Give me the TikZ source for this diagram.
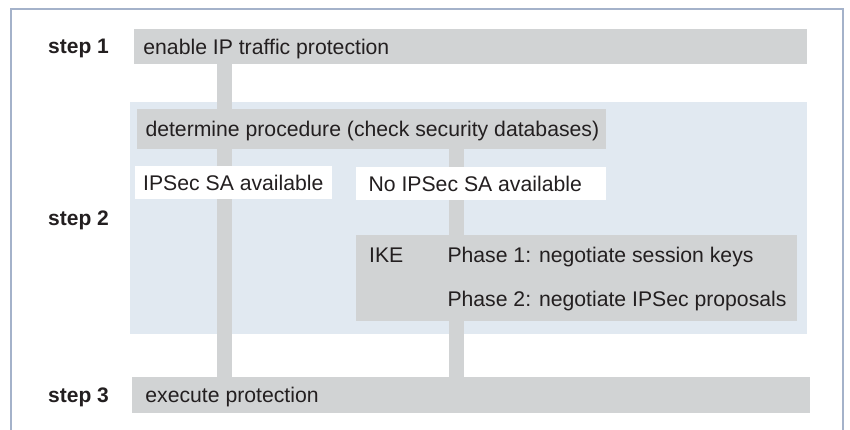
\documentclass[tikz,border=0pt]{standalone}
\usepackage{fontspec}
\setmainfont{Liberation Sans}
\pgfdeclarelayer{bg}
\pgfdeclarelayer{flow}
\pgfsetlayers{bg,flow,main}
\definecolor{bargray}{HTML}{D1D3D4}
\definecolor{stageblue}{HTML}{E1E9F1}
\definecolor{inkdark}{HTML}{231F20}
\definecolor{framecol}{HTML}{A4B2CA}
% fixed-width left-aligned line of text inside a box
\newcommand\boxline[2]{\makebox[#1][l]{#2}}
\tikzset{
  txt/.style={font=\fontsize{21.2}{44}\selectfont, text=inkdark,
              text height=15pt, text depth=0pt},
  bar/.style={txt, fill=bargray, anchor=north west, inner ysep=0pt,
              minimum height=#1},
  tag/.style={bar=#1, fill=white},
  steplabel/.style={txt, font=\fontsize{21}{44}\selectfont\bfseries,
              anchor=west, inner sep=0pt},
  ikeline/.style={txt, anchor=base west, inner sep=0pt},
  stem/.style={draw=bargray, line width=15pt},
  frame/.style={draw=framecol, line width=2pt},
}
\begin{document}
\begin{tikzpicture}[x=1pt, y=-1pt]
  \useasboundingbox (0,0) rectangle (850,430);
  \draw[frame] (11,430) -- (11,9) -- (843,9) -- (843,430);

  % stage 2 area, behind everything
  \begin{pgfonlayer}{bg}
    \node[fill=stageblue, anchor=north west, inner sep=0pt,
          minimum width=677pt, minimum height=232pt] (stage) at (130,102) {};
  \end{pgfonlayer}

  % steps
  \node[bar=35pt, inner xsep=9.2pt] (s1) at (134,29)
       {\boxline{654.6pt}{enable IP traffic protection}};
  \node[bar=40pt, inner xsep=8.3pt] (det) at (137,109)
       {\boxline{452.4pt}{determine procedure (check security databases)}};
  \node[tag=33pt, inner xsep=8pt] (sa) at (135,166)
       {\boxline{181pt}{IPSec SA available}};
  \node[tag=33pt, inner xsep=12.4pt] (nosa) at (356,167)
       {\boxline{225.2pt}{No IPSec SA available}};
  \node[fill=bargray, anchor=north west, inner sep=0pt,
        minimum width=441pt, minimum height=86pt] (ike) at (356,235) {};
  \node[ikeline] (ikename) at (369,262) {IKE};
  \node[ikeline] (ph1) at (447.3,262) {Phase 1: negotiate session keys};
  \node[ikeline] (ph2) at (447.3,306) {Phase 2: negotiate IPSec proposals};
  \node[bar=36pt, inner xsep=13.2pt] (s3) at (132,377)
       {\boxline{651.6pt}{execute protection}};

  % step labels
  \node[steplabel] (l1) at (48,46.5) {step 1};
  \node[steplabel] (l2) at (48,218) {step 2};
  \node[steplabel] (l3) at (48,395) {step 3};

  % flow stems: over the stage area, under the boxes
  \coordinate (c1) at (224.5,0);
  \coordinate (c2) at (456.5,0);
  \begin{pgfonlayer}{flow}
    \draw[stem] (c1 |- s1.south) -- (c1 |- s3.north);
    \draw[stem] (c2 |- det.south) -- (c2 |- s3.north);
  \end{pgfonlayer}
\end{tikzpicture}
\end{document}
